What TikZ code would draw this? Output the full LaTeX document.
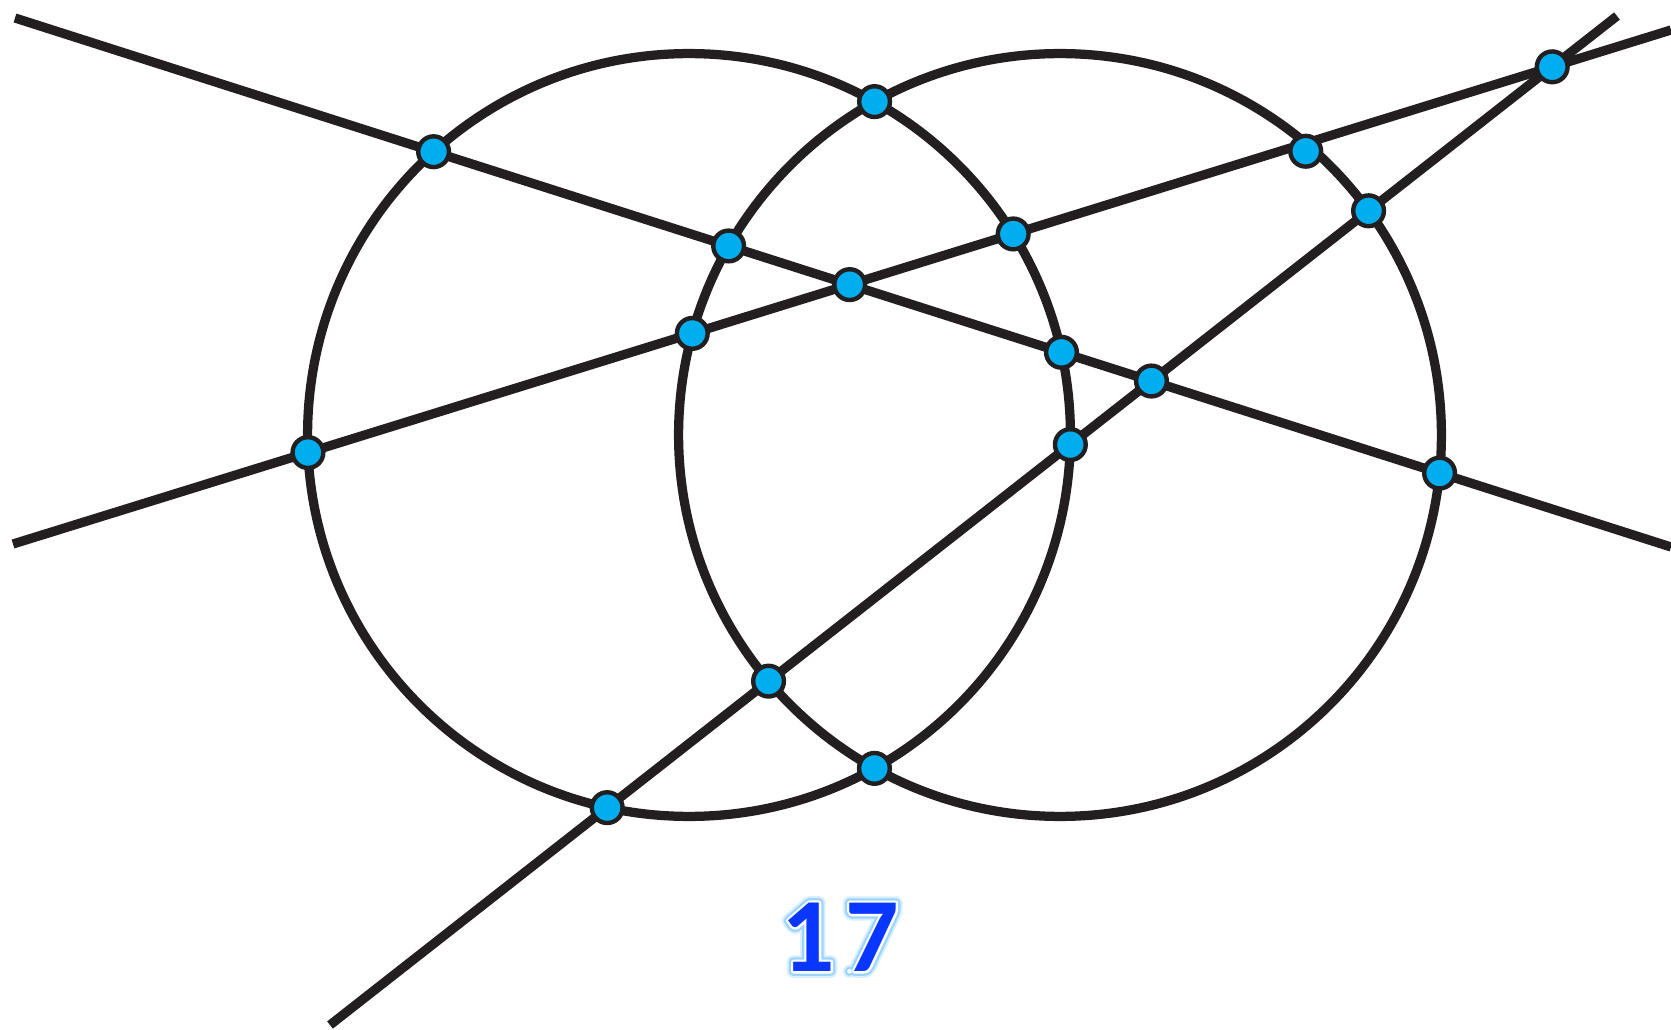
\documentclass[tikz,border=0pt]{standalone}
\usepackage{fontspec}
\newfontfamily\labelfont{Carlito}
\usetikzlibrary{intersections}
\definecolor{ink}{HTML}{231F20}
\definecolor{dotfill}{HTML}{00AEEF}
\definecolor{numblue}{HTML}{0A37FF}
\definecolor{glowblue}{HTML}{9AD4FF}
\definecolor{glowpale}{HTML}{D8EFFF}
% text drawn with a stroked outline (fill+stroke, round joins)
\newcommand{\strokedtext}[3]{{\color{#1}\special{pdf:literal direct q 2 Tr 1 j 1 J #2 w}#3\special{pdf:literal direct Q}}}
\newcommand{\numtext}{1\kern6pt 7}
\begin{document}
\begin{tikzpicture}[x=0.02cm,y=-0.02cm,
  geoline/.style={draw=ink,line width=0.185cm},
  dot/.style={circle,draw=ink,fill=dotfill,line width=0.088cm,minimum size=0.615cm,inner sep=0pt},
  numfont/.style={font=\labelfont\bfseries\fontsize{60}{72}\selectfont}]
\useasboundingbox (0,0) rectangle (1671,1030);
% circle centres
\coordinate (O1) at (689,435);
\coordinate (O2) at (1060,435);
% line end points
\coordinate (A1) at (15,18);    \coordinate (B1) at (1671,547);
\coordinate (A2) at (13,544);   \coordinate (B2) at (1671,30);
\coordinate (A3) at (330,1025); \coordinate (B3) at (1617,16);
% circles
\draw[geoline,name path=C1] (O1) circle[radius=7.63cm];
\draw[geoline,name path=C2] (O2) circle[radius=7.63cm];
% lines
\draw[geoline,name path=L1] (A1) -- (B1);
\draw[geoline,name path=L2] (A2) -- (B2);
\draw[geoline,name path=L3] (A3) -- (B3);
% line-circle intersections
\path[name intersections={of=L1 and C1,name=ia}];
\path[name intersections={of=L1 and C2,name=ib}];
\path[name intersections={of=L2 and C1,name=ic}];
\path[name intersections={of=L2 and C2,name=id,sort by=L2}];
\path[name intersections={of=L3 and C1,name=ie}];
\path[name intersections={of=L3 and C2,name=if}];
% line-line intersections
\path[name intersections={of=L1 and L2,name=ig}];
\path[name intersections={of=L1 and L3,name=ih}];
\path[name intersections={of=L2 and L3,name=ii}];
% circle-circle intersections
\path[name intersections={of=C1 and C2,name=ij}];
% dots
\foreach \p in {ia-1,ia-2,ib-1,ib-2,ic-1,ic-2,id-1,ie-1,ie-2,if-1,if-2,ig-1,ih-1,ii-1,ij-1,ij-2}
  \node[dot] (d\p) at (\p) {};
% this dot sits a little below the line in the original
\node[dot] (did-2) at ([shift={(0,8)}]id-2) {};
% label with white rim and soft blue glow
\node[numfont,inner sep=0pt] (num) at (840,937)
  {\rlap{\strokedtext{glowpale}{7.5}{\numtext}}%
   \rlap{\strokedtext{glowblue}{5.2}{\numtext}}%
   \rlap{\strokedtext{white}{2.6}{\numtext}}%
   {\color{numblue}\numtext}};
\end{tikzpicture}
\end{document}
